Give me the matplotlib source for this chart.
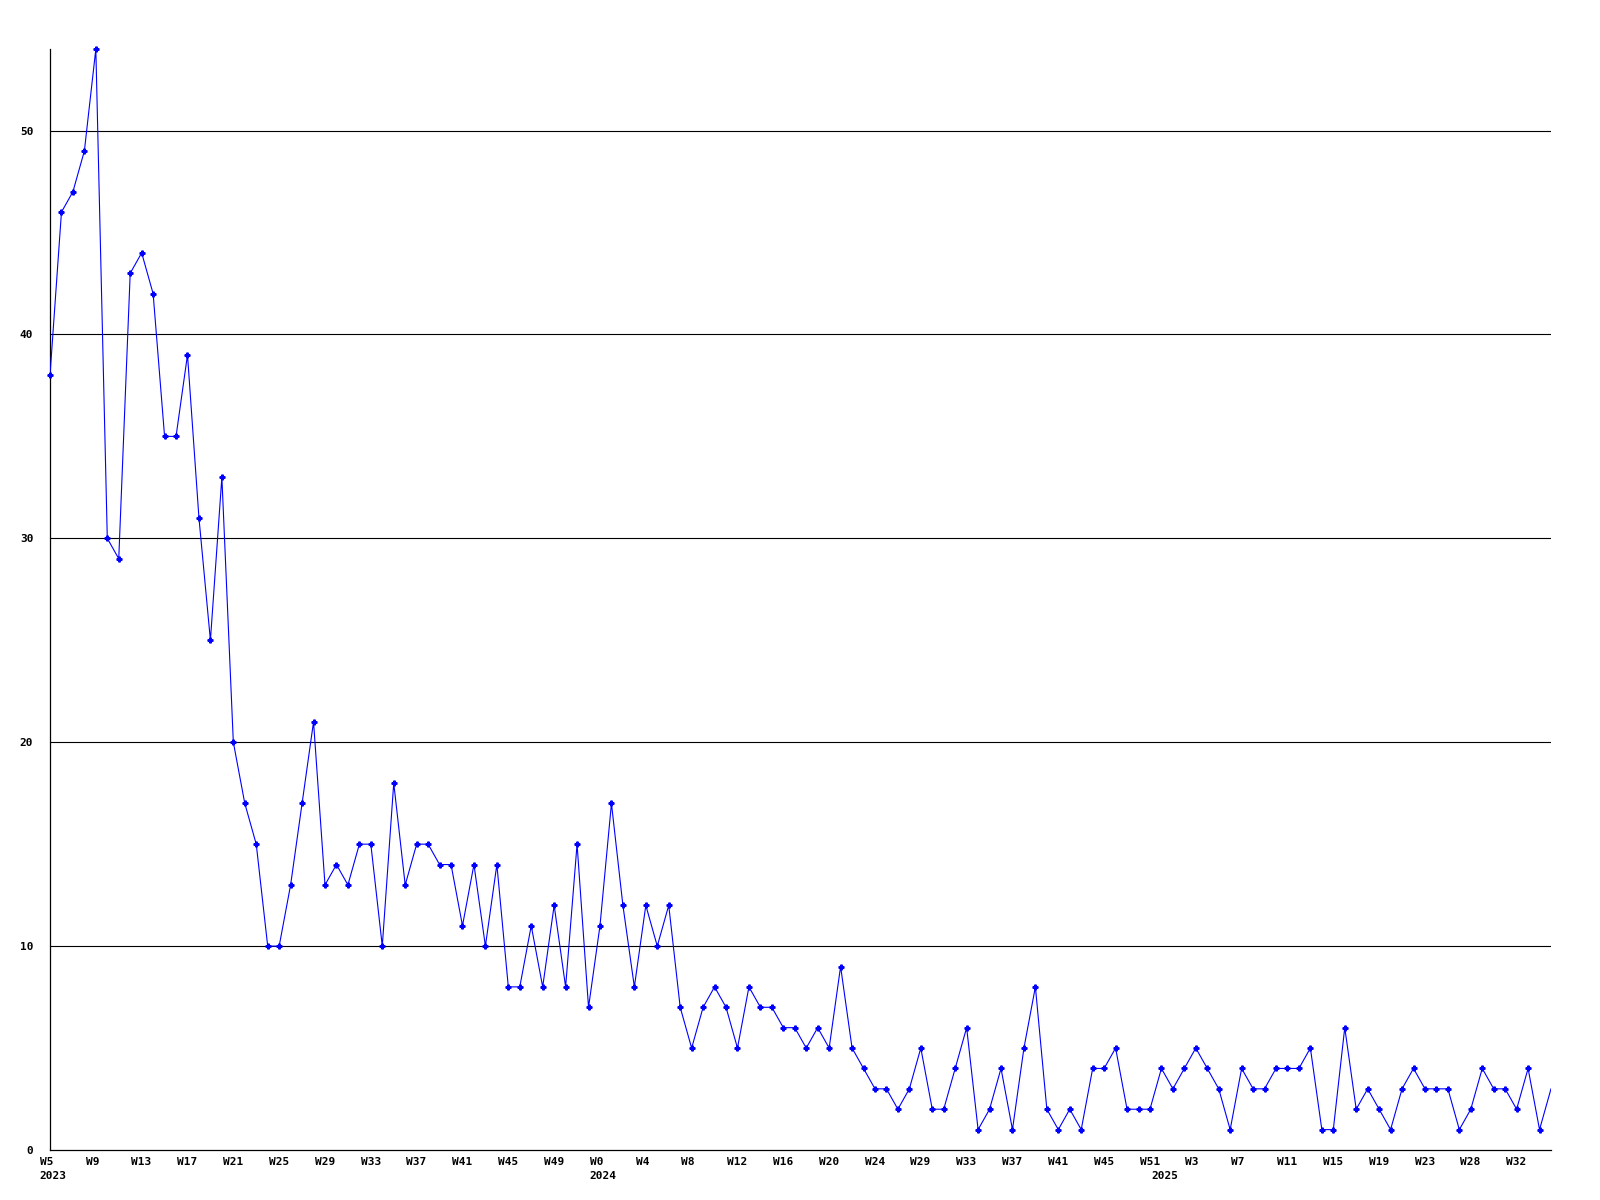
import matplotlib
matplotlib.use("Agg")
import matplotlib.pyplot as plt

# weekly counts (one point per week label step)
values = [38, 46, 47, 49, 54, 30, 29, 43, 44, 42, 35, 35, 39, 31, 25, 33,
          20, 17, 15, 10, 10, 13, 17, 21, 13, 14, 13, 15, 15, 10, 18, 13,
          15, 15, 14, 14, 11, 14, 10, 14, 8, 8, 11, 8, 12, 8, 15, 7,
          11, 17, 12, 8, 12, 10, 12, 7, 5, 7, 8, 7, 5, 8, 7, 7,
          6, 6, 5, 6, 5, 9, 5, 4, 3, 3, 2, 3, 5, 2, 2, 4,
          6, 1, 2, 4, 1, 5, 8, 2, 1, 2, 1, 4, 4, 5, 2, 2,
          2, 4, 3, 4, 5, 4, 3, 1, 4, 3, 3, 4, 4, 4, 5, 1,
          1, 6, 2, 3, 2, 1, 3, 4, 3, 3, 3, 1, 2, 4, 3, 3,
          2, 4, 1, 3]

week_labels = ["W5", "W9", "W13", "W17", "W21", "W25", "W29", "W33", "W37",
               "W41", "W45", "W49", "W0", "W4", "W8", "W12", "W16", "W20",
               "W24", "W29", "W33", "W37", "W41", "W45", "W51", "W3", "W7",
               "W11", "W15", "W19", "W23", "W28", "W32"]
week_label_step = 4
year_labels = ["2023", "2024", "2025"]
year_index = [0, 48, 97]

y_ticks = [0, 10, 20, 30, 40, 50]

x = list(range(len(values)))

fig = plt.figure(figsize=(16, 12), dpi=100)
ax = fig.add_axes([50 / 1600, 50 / 1200, 1501 / 1600, 1101 / 1200])

# horizontal grid lines
for yv in y_ticks[1:]:
    ax.axhline(yv, color="black", lw=0.8, zorder=1)

ax.plot(x, values, color="#0000ff", lw=0.8, zorder=3)
ax.plot(x[:-1], values[:-1], ls="none", color="#0000ff", zorder=4,
        marker="P", ms=3.5, clip_on=False)

ax.set_xlim(0, len(values) - 1)
ax.set_ylim(0, 54)

for side in ["top", "right"]:
    ax.spines[side].set_visible(False)
for side in ["left", "bottom"]:
    ax.spines[side].set_linewidth(0.9)

ax.set_xticks([])
ax.set_yticks(y_ticks)
ax.set_yticklabels([str(v) for v in y_ticks], fontfamily="DejaVu Sans Mono",
                   fontweight="bold", fontsize=8)
ax.tick_params(axis="y", length=0, pad=12)

trans = ax.get_xaxis_transform()
for k, lab in enumerate(week_labels):
    ax.text(k * week_label_step - 0.9, -0.006, lab, transform=trans,
            ha="left", va="top", fontfamily="DejaVu Sans Mono",
            fontweight="bold", fontsize=8)
for idx, yr in zip(year_index, year_labels):
    ax.text(idx - 0.9, -0.0195, yr, transform=trans,
            ha="left", va="top", fontfamily="DejaVu Sans Mono",
            fontweight="bold", fontsize=8)

fig.savefig("out.png", dpi=100)
